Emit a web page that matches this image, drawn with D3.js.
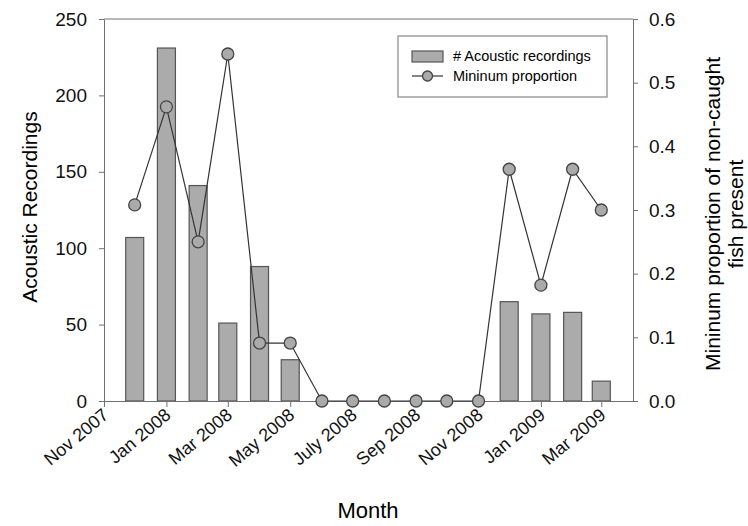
<!doctype html>
<html lang="en">
<head>
  <meta charset="utf-8">
  <title>Acoustic recordings</title>
  <script src="https://d3js.org/d3.v7.min.js"></script>
  <style>
    body { margin: 0; background: #fff; }
    svg { font-family: "Liberation Sans", Arial, sans-serif; }
    .axis path, .axis line { stroke: #707070; }
    .axis text { font-size: 19px; fill: #111; }
    .xaxis text { font-size: 18px; }
    .bar { fill: #ababab; stroke: #555; stroke-width: 1.2; }
    .dot { fill: #aaa; stroke: #444; stroke-width: 1.3; }
  </style>
</head>
<body>
<svg id="chart" width="748" height="526"></svg>
<script>
  // monthly values, Dec 2007 - Mar 2009
  const months = ['2007-12', '2008-01', '2008-02', '2008-03', '2008-04', '2008-05', '2008-06',
    '2008-07', '2008-08', '2008-09', '2008-10', '2008-11', '2008-12', '2009-01', '2009-02', '2009-03'];
  const recordings = [107, 231, 141, 51, 88, 27, null, null, null, null, null, null, 65, 57, 58, 13];
  const proportion = [0.308, 0.462, 0.25, 0.545, 0.091, 0.091, 0, 0, 0, 0, 0, 0, 0.364, 0.182, 0.364, 0.3];

  const xTickDates = ['2007-11', '2008-01', '2008-03', '2008-05', '2008-07', '2008-09', '2008-11', '2009-01', '2009-03'];
  const xTickLabels = ['Nov 2007', 'Jan 2008', 'Mar 2008', 'May 2008', 'July 2008', 'Sep 2008', 'Nov 2008', 'Jan 2009', 'Mar 2009'];
  const leftTicks = [0, 50, 100, 150, 200, 250];
  const rightTicks = [0, 0.1, 0.2, 0.3, 0.4, 0.5, 0.6];

  const parse = d3.timeParse('%Y-%m');
  const margin = { top: 19, right: 115, bottom: 125, left: 104 };
  const width = 748 - margin.left - margin.right;
  const height = 526 - margin.top - margin.bottom;

  const svg = d3.select('#chart');
  const g = svg.append('g').attr('transform', `translate(${margin.left},${margin.top})`);

  const x = d3.scaleTime()
    .domain([parse('2007-11'), parse('2009-04')])
    .range([0, width]);
  const y = d3.scaleLinear().domain([0, 250]).range([height, 0]);
  const y2 = d3.scaleLinear().domain([0, 0.6]).range([height, 0]);

  const data = months.map((m, i) => ({ date: parse(m), rec: recordings[i], prop: proportion[i] }));

  // top frame line
  g.append('line')
    .attr('x1', 0).attr('x2', width).attr('y1', 0).attr('y2', 0)
    .attr('stroke', '#707070');

  const barW = 18;
  g.selectAll('.bar')
    .data(data.filter(d => d.rec !== null))
    .join('rect')
    .attr('class', 'bar')
    .attr('x', d => x(d.date) - barW / 2)
    .attr('y', d => y(d.rec))
    .attr('width', barW)
    .attr('height', d => height - y(d.rec));

  const xAxis = g.append('g')
    .attr('class', 'axis xaxis')
    .attr('transform', `translate(0,${height})`)
    .call(d3.axisBottom(x)
      .tickValues(xTickDates.map(parse))
      .tickFormat((d, i) => xTickLabels[i])
      .tickSize(6).tickSizeOuter(0));
  xAxis.selectAll('text')
    .attr('text-anchor', 'end')
    .attr('x', 0).attr('y', 0)
    .attr('dy', '0.35em')
    .attr('transform', 'translate(1,11) rotate(-40)');

  g.append('g')
    .attr('class', 'axis')
    .call(d3.axisLeft(y).tickValues(leftTicks).tickSize(5).tickSizeOuter(0).tickPadding(12));

  g.append('g')
    .attr('class', 'axis')
    .attr('transform', `translate(${width},0)`)
    .call(d3.axisRight(y2).tickValues(rightTicks).tickFormat(d3.format('.1f')).tickSize(5).tickSizeOuter(0).tickPadding(11));

  const line = d3.line().x(d => x(d.date)).y(d => y2(d.prop));
  g.append('path')
    .datum(data)
    .attr('fill', 'none')
    .attr('stroke', '#333')
    .attr('stroke-width', 1.2)
    .attr('d', line);

  g.selectAll('.dot')
    .data(data)
    .join('circle')
    .attr('class', 'dot')
    .attr('cx', d => x(d.date))
    .attr('cy', d => y2(d.prop))
    .attr('r', 6);

  // axis titles
  svg.append('text')
    .attr('transform', 'translate(37,207) rotate(-90)')
    .attr('text-anchor', 'middle')
    .style('font-size', '21px')
    .text('Acoustic Recordings');

  const rt = svg.append('text')
    .attr('transform', 'translate(720,214) rotate(-90)')
    .attr('text-anchor', 'middle')
    .style('font-size', '21px');
  rt.append('tspan').attr('x', 0).attr('dy', 0).text('Mininum proportion of non-caught');
  rt.append('tspan').attr('x', 0).attr('dy', '1.1em').text('fish present');

  svg.append('text')
    .attr('x', 368)
    .attr('y', 518)
    .attr('text-anchor', 'middle')
    .style('font-size', '22px')
    .text('Month');

  // legend
  const lg = svg.append('g').attr('transform', 'translate(398,36)');
  lg.append('rect')
    .attr('width', 209).attr('height', 61)
    .attr('fill', '#fff').attr('stroke', '#888').attr('stroke-width', 1.2);
  lg.append('rect')
    .attr('class', 'bar')
    .attr('x', 14).attr('y', 15).attr('width', 31).attr('height', 11);
  lg.append('text')
    .attr('x', 55).attr('y', 25)
    .style('font-size', '14.5px')
    .text('# Acoustic recordings');
  lg.append('line')
    .attr('x1', 14).attr('x2', 45).attr('y1', 40).attr('y2', 40)
    .attr('stroke', '#333').attr('stroke-width', 1.2);
  lg.append('circle')
    .attr('class', 'dot')
    .attr('cx', 29.5).attr('cy', 40).attr('r', 5);
  lg.append('text')
    .attr('x', 55).attr('y', 45)
    .style('font-size', '14.5px')
    .text('Mininum proportion');
</script>
</body>
</html>
